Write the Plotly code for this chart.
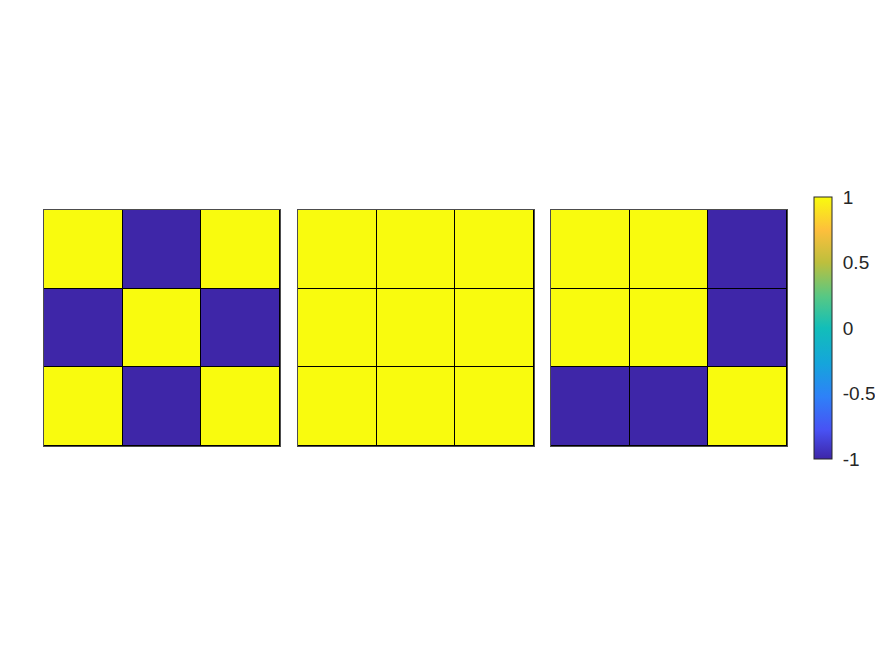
import plotly.graph_objects as go

# Data: three 3x3 matrices (rows listed top to bottom)
panel_a = [[1, -1, 1],
           [-1, 1, -1],
           [1, -1, 1]]
panel_b = [[1, 1, 1],
           [1, 1, 1],
           [1, 1, 1]]
panel_c = [[1, 1, -1],
           [1, 1, -1],
           [-1, -1, 1]]
cols = [0, 1, 2]
rows = [0, 1, 2]
cbar_ticks = [-1, -0.5, 0, 0.5, 1]
cbar_ticktext = ["-1", "-0.5", "0", "0.5", "1"]

parula = [
    [0.000, "rgb(62,38,168)"],
    [0.111, "rgb(72,82,244)"],
    [0.238, "rgb(46,129,248)"],
    [0.365, "rgb(21,165,219)"],
    [0.500, "rgb(18,190,185)"],
    [0.619, "rgb(86,200,133)"],
    [0.750, "rgb(189,191,61)"],
    [0.873, "rgb(253,191,60)"],
    [1.000, "rgb(249,251,14)"],
]

W, H = 875, 656
panels = [panel_a, panel_b, panel_c]
xdom_px = [(44, 280), (298, 534), (551, 787)]
ydom = [(H - 446) / H, (H - 210) / H]

fig = go.Figure()
for i, z in enumerate(panels):
    ax = "" if i == 0 else str(i + 1)
    fig.add_trace(go.Heatmap(
        z=z, x=cols, y=rows,
        colorscale=parula, zmin=-1, zmax=1,
        xgap=1, ygap=1,
        xaxis="x" + ax, yaxis="y" + ax,
        showscale=(i == 0),
        hoverinfo="skip",
        colorbar=dict(
            x=814 / W, xanchor="left", xpad=0, ypad=0,
            y=0.5, yanchor="middle",
            len=262 / H, lenmode="fraction",
            thickness=18, thicknessmode="pixels",
            outlinecolor="#262626", outlinewidth=1,
            tickvals=cbar_ticks, ticktext=cbar_ticktext,
            ticks="outside", ticklen=7, tickcolor="rgba(0,0,0,0)",
            tickfont=dict(family="Liberation Sans, Arial, sans-serif", size=19, color="#262626"),
        ),
    ))
    xa = dict(domain=[xdom_px[i][0] / W, xdom_px[i][1] / W], range=[-0.5, 2.5],
              showticklabels=False, ticks="", showgrid=False, zeroline=False,
              showline=True, mirror=True, linecolor="#4d4d4d", linewidth=1)
    ya = dict(domain=ydom, range=[2.5, -0.5],
              showticklabels=False, ticks="", showgrid=False, zeroline=False,
              showline=True, mirror=True, linecolor="#4d4d4d", linewidth=1,
              anchor="x" + ax)
    xa["anchor"] = "y" + ax
    fig.layout["xaxis" + ax] = xa
    fig.layout["yaxis" + ax] = ya

fig.update_layout(
    width=W, height=H,
    margin=dict(l=0, r=0, t=0, b=0, autoexpand=False),
    paper_bgcolor="white",
    plot_bgcolor="black",
    showlegend=False,
)

fig.write_html("out.html")
